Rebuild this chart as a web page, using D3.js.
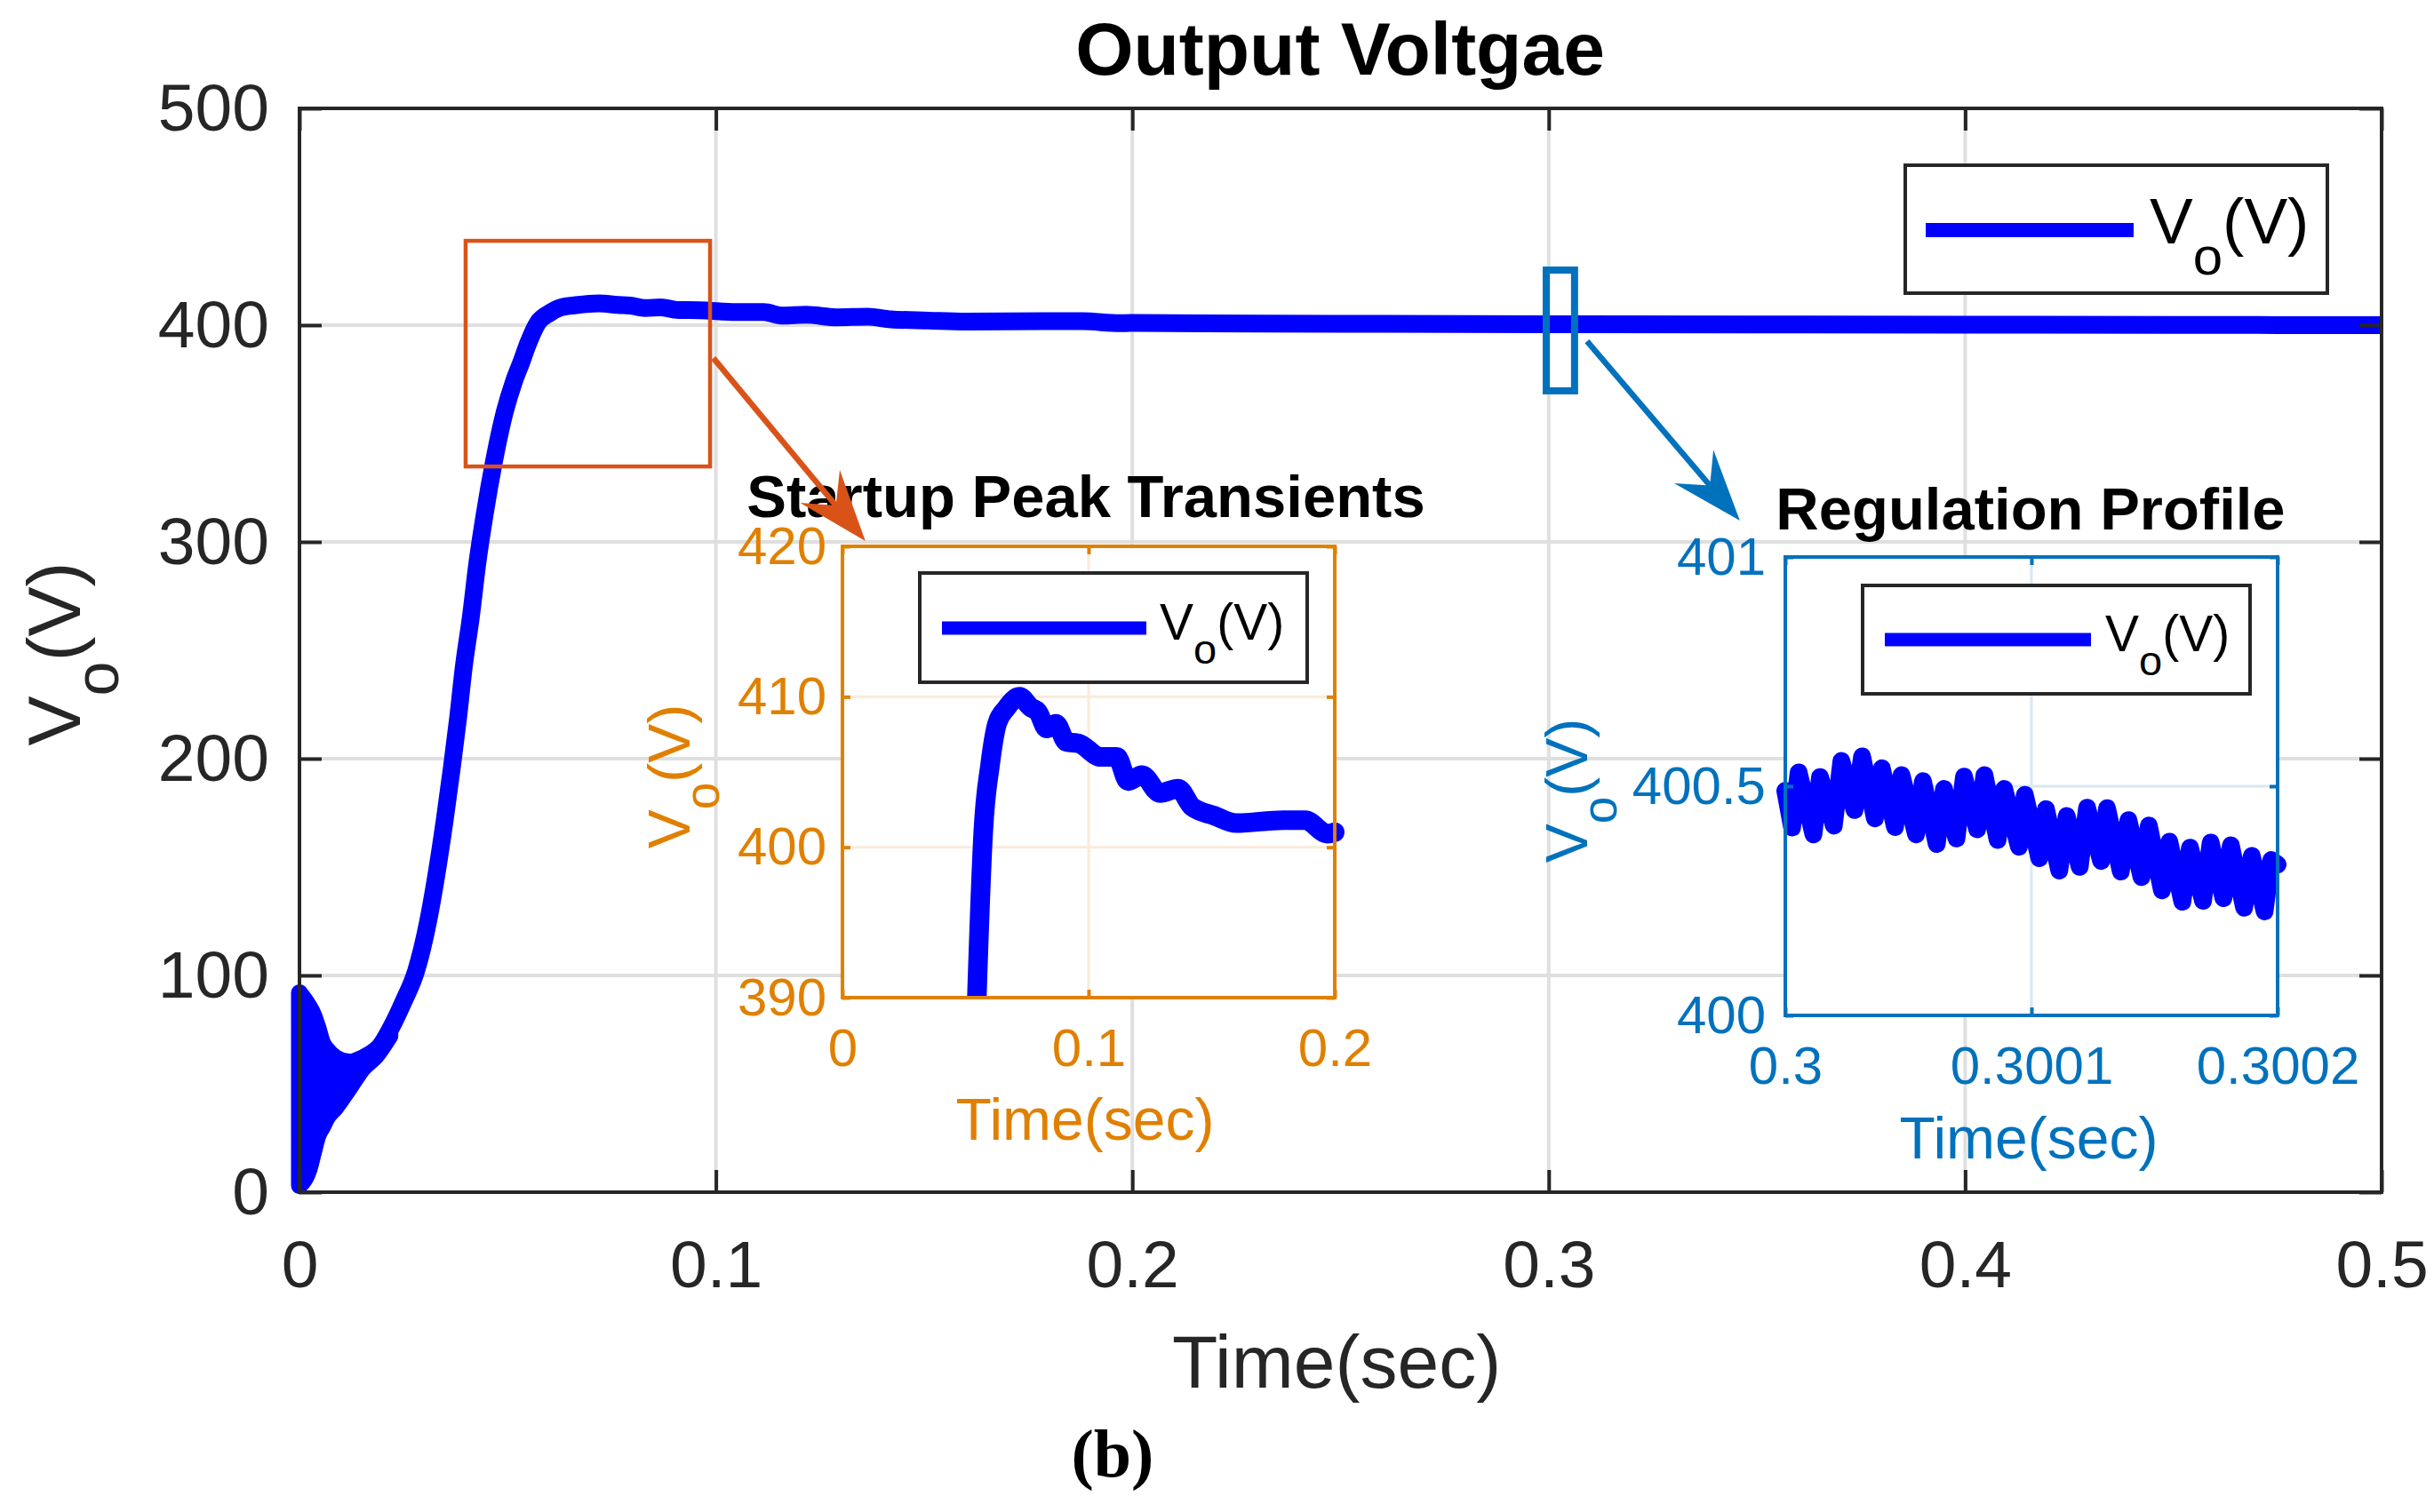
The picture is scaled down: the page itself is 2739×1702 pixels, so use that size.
<!DOCTYPE html>
<html>
<head>
<meta charset="utf-8">
<title>Output Voltgae</title>
<script src="https://cdn.jsdelivr.net/npm/d3@7/dist/d3.min.js"></script>
<style>
  body { margin: 0; background: #fff; }
  svg { display: block; }
</style>
</head>
<body>
<div class="vo-chart"></div>
<script>
'use strict';

// ---- values ----
// Vo(t) after the first ripple burst; t in sec, Vo in V
const traceTime = [0.012, 0.015, 0.0185, 0.0223, 0.025, 0.028, 0.0309, 0.0331, 0.0349, 0.0366,
    0.0381, 0.0395, 0.0412, 0.0427, 0.0445, 0.0466, 0.0493, 0.0515, 0.0533, 0.0548,
    0.0572, 0.060, 0.0628, 0.0664, 0.0719, 0.0765, 0.0794, 0.083, 0.0867, 0.091,
    0.096, 0.105, 0.1115, 0.116, 0.1217, 0.129, 0.1364, 0.142, 0.151, 0.160,
    0.179, 0.188, 0.197, 0.2, 0.23, 0.26, 0.3, 0.35, 0.4, 0.45, 0.5];
const traceVolt = [54, 59, 65, 77, 88, 102, 125, 149, 172, 196,
    219, 243, 266, 290, 313, 336, 360, 374, 383, 391,
    401, 405.5, 408.2, 409.2, 410.0, 409.3, 409.0, 407.9, 408.2, 407.0,
    406.9, 406.0, 406.0, 404.4, 404.8, 403.6, 403.9, 402.7, 402.1, 401.6,
    401.8, 401.8, 400.9, 401.0, 400.7, 400.6, 400.45, 400.3, 400.2, 400.1, 400.0];

// switching ripple at start-up: envelope of the trace
const rippleTime = [0, 0.0022, 0.0033, 0.0044, 0.0055, 0.0065, 0.0087, 0.012, 0.0152, 0.0185, 0.0217];
const rippleHigh = [92, 86, 82, 76, 69, 66, 62, 60, 62, 66, 73];
const rippleLow = [3, 10, 18, 26, 30, 34, 39, 48, 57, 63, 72];

// regulation window, microseconds after t = 0.3 s
const regMicros = [0, 2.76, 5.43, 11.44, 14.11, 19.72, 22.79, 28.13, 31.2, 36.41,
    39.22, 44.56, 47.23, 53.11, 55.92, 61.53, 64.47, 69.54, 72.6, 77.95,
    80.9, 86.24, 88.91, 94.9, 97.3, 103.2, 105.9, 111.3, 114.3, 119.6,
    122.6, 128.3, 130.7, 136.3, 139.4, 144.7, 147.7, 153.0, 156.0, 161.3,
    164.4, 169.7, 172.8, 178.0, 181.0, 186.4, 189.5, 194.7, 197.4, 200];
const regVolt = [400.49, 400.41, 400.53, 400.395, 400.52, 400.414, 400.555, 400.448, 400.565, 400.43,
    400.539, 400.411, 400.524, 400.395, 400.511, 400.374, 400.494, 400.386, 400.521, 400.406,
    400.524, 400.383, 400.494, 400.368, 400.481, 400.343, 400.45, 400.316, 400.435, 400.324,
    400.453, 400.337, 400.452, 400.314, 400.426, 400.302, 400.414, 400.273, 400.379, 400.248,
    400.366, 400.25, 400.377, 400.256, 400.371, 400.235, 400.348, 400.227, 400.339, 400.329];

const mainTimeTicks = [0, 0.1, 0.2, 0.3, 0.4, 0.5];
const mainVoltTicks = [0, 100, 200, 300, 400, 500];
const startupTimeTicks = [0, 0.1, 0.2];
const startupVoltTicks = [390, 400, 410, 420];
const regMicroTicks = [0, 100, 200];
const regTimeLabels = ['0.3', '0.3001', '0.3002'];
const regVoltTicks = [400, 400.5, 401];

// zoom marks on the main axes (data units) and the arrows leading to the insets
const startupMark = {t: [0.0399, 0.0986], v: [334.8, 438.9]};
const regMark = {t: [0.2994, 0.3062], v: [369.7, 425.4]};
const startupArrow = [[0.0994, 384.8], [0.1359, 300.4]];
const regArrow = [[0.3092, 392.6], [0.3459, 309.8]];

// ---- layout ----
const W = 2739, H = 1702;
const FONT = '"Liberation Sans", Arial, Helvetica, sans-serif';
const INK = '#262626';
const TRACE = '#0000ff';
const RUST = '#d95319';
const AMBER = '#e08000';
const STEEL = '#0072bd';

const mainBox = {left: 337, right: 2680, top: 122, bottom: 1342};
const startupBox = {left: 948, right: 1502, top: 615, bottom: 1123};
const regBox = {left: 2009, right: 2563, top: 627, bottom: 1143};

const svg = d3.select('.vo-chart').append('svg')
    .attr('width', W).attr('height', H)
    .style('font-family', FONT);

const xMain = d3.scaleLinear().domain([0, 0.5]).range([mainBox.left, mainBox.right]);
const yMain = d3.scaleLinear().domain([0, 500]).range([mainBox.bottom, mainBox.top]);
const xStart = d3.scaleLinear().domain([0, 0.2]).range([startupBox.left, startupBox.right]);
const yStart = d3.scaleLinear().domain([390, 420]).range([startupBox.bottom, startupBox.top]);
const xReg = d3.scaleLinear().domain([0, 200]).range([regBox.left, regBox.right]);
const yReg = d3.scaleLinear().domain([400, 401]).range([regBox.bottom, regBox.top]);

const trace = traceTime.map((t, i) => [t, traceVolt[i]]);
const ripple = rippleTime.map((t, i) => ({t: t, hi: rippleHigh[i], lo: rippleLow[i]}));
const reg = regMicros.map((t, i) => [t, regVolt[i]]);

function panelBack(box, x, y, xt, yt, gridColor, gridWidth) {
    const g = svg.append('g');
    g.append('rect')
        .attr('x', box.left).attr('y', box.top)
        .attr('width', box.right - box.left).attr('height', box.bottom - box.top)
        .attr('fill', '#fff');
    g.selectAll('.gx').data(xt).join('line')
        .attr('x1', d => x(d)).attr('x2', d => x(d))
        .attr('y1', box.top).attr('y2', box.bottom);
    g.selectAll('.gy').data(yt).join('line')
        .attr('y1', d => y(d)).attr('y2', d => y(d))
        .attr('x1', box.left).attr('x2', box.right);
    g.selectAll('line').attr('stroke', gridColor).attr('stroke-width', gridWidth);
}

function panelFrame(box, o) {
    const axes = [
        [d3.axisBottom(o.x).tickFormat(o.xFmt).tickPadding(o.padX), `translate(0,${box.bottom})`, o.xt],
        [d3.axisTop(o.x).tickFormat(''), `translate(0,${box.top})`, o.xt],
        [d3.axisLeft(o.y).tickFormat(o.yFmt).tickPadding(o.padY), `translate(${box.left},0)`, o.yt],
        [d3.axisRight(o.y).tickFormat(''), `translate(${box.right},0)`, o.yt]
    ];
    axes.forEach(([ax, tr, ticks]) => {
        const g = svg.append('g').attr('transform', tr)
            .call(ax.tickValues(ticks).tickSizeInner(-o.tickLen).tickSizeOuter(0));
        g.select('.domain').remove();
        g.selectAll('line').attr('stroke', o.color).attr('stroke-width', o.width);
        g.selectAll('text').attr('fill', o.color)
            .style('font-family', FONT).style('font-size', o.font + 'px');
    });
    svg.append('rect')
        .attr('x', box.left).attr('y', box.top)
        .attr('width', box.right - box.left).attr('height', box.bottom - box.top)
        .attr('fill', 'none').attr('stroke', o.color).attr('stroke-width', o.width);
}

// V_o(V) with a lowered subscript
function voText(sel, size, subSize, shift) {
    sel.style('font-size', size + 'px');
    sel.append('tspan').text('V');
    sel.append('tspan').attr('dy', shift).style('font-size', subSize + 'px').text('o');
    sel.append('tspan').attr('dy', -shift).text('(V)');
}

function legend(o) {
    const g = svg.append('g').attr('transform', `translate(${o.x},${o.y})`);
    g.append('rect').attr('width', o.w).attr('height', o.h)
        .attr('fill', '#fff').attr('stroke', INK).attr('stroke-width', 4);
    g.append('line').attr('x1', o.l0).attr('x2', o.l1).attr('y1', o.ly).attr('y2', o.ly)
        .attr('stroke', TRACE).attr('stroke-width', o.lw);
    g.append('text').attr('x', o.tx).attr('y', o.ty).attr('fill', '#000')
        .call(voText, o.font, o.sub, o.shift);
}

function clipFor(id, box) {
    svg.append('clipPath').attr('id', id).append('rect')
        .attr('x', box.left - 30).attr('y', box.top)
        .attr('width', box.right - box.left + 60).attr('height', box.bottom - box.top);
    return `url(#${id})`;
}

// ---- main axes ----
panelBack(mainBox, xMain, yMain, mainTimeTicks, mainVoltTicks, '#dfdfdf', 4);

svg.append('path')
    .datum(ripple)
    .attr('d', d3.area().curve(d3.curveMonotoneX)
        .x(d => xMain(d.t)).y0(d => yMain(d.lo)).y1(d => yMain(d.hi)))
    .attr('fill', TRACE).attr('stroke', TRACE).attr('stroke-width', 19)
    .attr('stroke-linejoin', 'round');

svg.append('path')
    .datum(trace)
    .attr('d', d3.line().curve(d3.curveMonotoneX).x(d => xMain(d[0])).y(d => yMain(d[1])))
    .attr('fill', 'none').attr('stroke', TRACE).attr('stroke-width', 20)
    .attr('stroke-linejoin', 'round');

panelFrame(mainBox, {
    x: xMain, y: yMain, xt: mainTimeTicks, yt: mainVoltTicks,
    xFmt: String, yFmt: String, padX: 54, padY: 34,
    color: INK, tickLen: 25, width: 4, font: 75
});

svg.append('text').attr('x', 1508).attr('y', 84)
    .attr('text-anchor', 'middle').attr('font-weight', 'bold')
    .style('font-size', '84px').attr('fill', '#000')
    .text('Output Voltgae');

svg.append('text').attr('x', 1504).attr('y', 1562)
    .attr('text-anchor', 'middle').style('font-size', '84px').attr('fill', INK)
    .text('Time(sec)');

svg.append('text').attr('text-anchor', 'middle').attr('fill', INK)
    .attr('transform', 'translate(90,736) rotate(-90)')
    .call(voText, 84, 70, 43);

legend({x: 2144, y: 186, w: 475, h: 144, l0: 23, l1: 257, ly: 73, lw: 16,
    tx: 275, ty: 88, font: 73, sub: 60, shift: 35});

// zoom marks
[[startupMark, RUST, 4.5], [regMark, STEEL, 8]].forEach(([m, c, w]) => {
    svg.append('rect')
        .attr('x', xMain(m.t[0])).attr('y', yMain(m.v[1]))
        .attr('width', xMain(m.t[1]) - xMain(m.t[0]))
        .attr('height', yMain(m.v[0]) - yMain(m.v[1]))
        .attr('fill', 'none').attr('stroke', c).attr('stroke-width', w);
});

// ---- inset: startup peak ----
panelBack(startupBox, xStart, yStart, startupTimeTicks, startupVoltTicks, '#fbeada', 3);

svg.append('path')
    .datum(trace.filter(d => d[0] <= 0.2))
    .attr('clip-path', clipFor('clip-start', startupBox))
    .attr('d', d3.line().curve(d3.curveMonotoneX).x(d => xStart(d[0])).y(d => yStart(d[1])))
    .attr('fill', 'none').attr('stroke', TRACE).attr('stroke-width', 22)
    .attr('stroke-linejoin', 'round').attr('stroke-linecap', 'round');

panelFrame(startupBox, {
    x: xStart, y: yStart, xt: startupTimeTicks, yt: startupVoltTicks,
    xFmt: String, yFmt: String, padX: 34, padY: 18,
    color: AMBER, tickLen: 9, width: 4, font: 60
});

svg.append('text').attr('x', 1221).attr('y', 1283)
    .attr('text-anchor', 'middle').style('font-size', '66px').attr('fill', AMBER)
    .text('Time(sec)');
svg.append('text').attr('text-anchor', 'middle').attr('fill', AMBER)
    .attr('transform', 'translate(776,874) rotate(-90)')
    .call(voText, 66, 55, 33);
svg.append('text').attr('x', 1222).attr('y', 582)
    .attr('text-anchor', 'middle').attr('font-weight', 'bold')
    .style('font-size', '67px').attr('fill', '#000')
    .text('Startup Peak Transients');

legend({x: 1035, y: 645, w: 436, h: 123, l0: 25, l1: 255, ly: 62, lw: 15,
    tx: 270, ty: 75, font: 57, sub: 47, shift: 27});

// ---- inset: regulation profile ----
panelBack(regBox, xReg, yReg, regMicroTicks, regVoltTicks, '#d8e8f3', 3);

svg.append('path')
    .datum(reg)
    .attr('clip-path', clipFor('clip-reg', regBox))
    .attr('d', d3.line().x(d => xReg(d[0])).y(d => yReg(d[1])))
    .attr('fill', 'none').attr('stroke', TRACE).attr('stroke-width', 20)
    .attr('stroke-linejoin', 'round').attr('stroke-linecap', 'round');

panelFrame(regBox, {
    x: xReg, y: yReg, xt: regMicroTicks, yt: regVoltTicks,
    xFmt: d => regTimeLabels[regMicroTicks.indexOf(d)], yFmt: String, padX: 34, padY: 22,
    color: STEEL, tickLen: 9, width: 4, font: 60
});

svg.append('text').attr('x', 2283).attr('y', 1304)
    .attr('text-anchor', 'middle').style('font-size', '66px').attr('fill', STEEL)
    .text('Time(sec)');
svg.append('text').attr('text-anchor', 'middle').attr('fill', STEEL)
    .attr('transform', 'translate(1786,890) rotate(-90)')
    .call(voText, 66, 55, 33);
svg.append('text').attr('x', 2285).attr('y', 596)
    .attr('text-anchor', 'middle').attr('font-weight', 'bold')
    .style('font-size', '67px').attr('fill', '#000')
    .text('Regulation Profile');

legend({x: 2096, y: 659, w: 436, h: 122, l0: 25, l1: 257, ly: 61, lw: 15,
    tx: 273, ty: 74, font: 57, sub: 47, shift: 27});

// ---- arrows from the marks to the insets ----
function arrow(pts, color) {
    const p0 = [xMain(pts[0][0]), yMain(pts[0][1])];
    const p1 = [xMain(pts[1][0]), yMain(pts[1][1])];
    const len = Math.hypot(p1[0] - p0[0], p1[1] - p0[1]);
    const u = [(p1[0] - p0[0]) / len, (p1[1] - p0[1]) / len];
    const at = (a, b) => [p1[0] - a * u[0] - b * u[1], p1[1] - a * u[1] + b * u[0]];
    const notch = at(52, 0);
    svg.append('line')
        .attr('x1', p0[0]).attr('y1', p0[1]).attr('x2', notch[0]).attr('y2', notch[1])
        .attr('stroke', color).attr('stroke-width', 6.5);
    svg.append('path')
        .attr('d', d3.line()([p1, at(80, 29), notch, at(80, -29)]) + 'Z')
        .attr('fill', color);
}
arrow(startupArrow, RUST);
arrow(regArrow, STEEL);

// figure tag
svg.append('text').attr('x', 1252).attr('y', 1662)
    .attr('text-anchor', 'middle').attr('font-weight', 'bold')
    .style('font-family', '"Liberation Serif", "Times New Roman", serif')
    .style('font-size', '76px').attr('fill', '#000')
    .text('(b)');
</script>
</body>
</html>
